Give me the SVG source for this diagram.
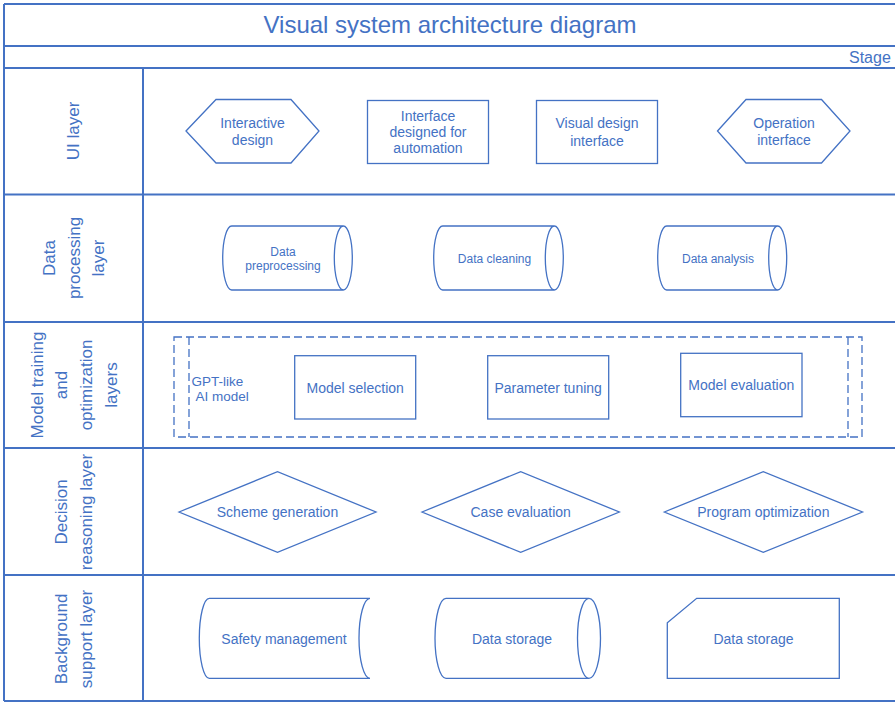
<svg xmlns="http://www.w3.org/2000/svg" width="895" height="702" viewBox="0 0 895 702">
  <style>
    .frame { fill: none; stroke: #4472C4; stroke-width: 2; }
    .shape { fill: #FFFFFF; stroke: #4472C4; stroke-width: 1.3; }
    .dash { fill: none; stroke: #4472C4; stroke-width: 1.3; stroke-dasharray: 8 4; }
    text { font-family: "Liberation Sans", Arial, sans-serif; fill: #4472C4; }
    .lbl { font-size: 14px; text-anchor: middle; dominant-baseline: central; }
    .sm { font-size: 12px; }
    .lane { font-size: 17px; text-anchor: middle; }
  </style>
  <rect width="895" height="702" fill="#FFFFFF"/>

  <!-- swimlane frame -->
  <g id="frame">
    <path class="frame" d="M4,4 H900 M4,4 V701 M4,46 H900 M4,68 H900 M4,194.5 H900 M4,322 H900 M4,448 H900 M4,575 H900 M4,701 H900 M143,68 V701"/>
    <text x="450" y="33" font-size="24" text-anchor="middle">Visual system architecture diagram</text>
    <text x="849" y="63" font-size="16">Stage</text>
  </g>

  <!-- lane titles -->
  <g id="lane-ui">
    <text class="lane" transform="translate(79,131) rotate(-90)">UI layer</text>
  </g>
  <g id="lane-data">
    <text class="lane" transform="translate(55,258) rotate(-90)"><tspan x="0">Data</tspan><tspan x="0" dy="24.6">processing</tspan><tspan x="0" dy="24.6">layer</tspan></text>
  </g>
  <g id="lane-model">
    <text class="lane" transform="translate(42.7,385) rotate(-90)"><tspan x="0">Model training</tspan><tspan x="0" dy="24.8">and</tspan><tspan x="0" dy="24.8">optimization</tspan><tspan x="0" dy="24.8">layers</tspan></text>
  </g>
  <g id="lane-decision">
    <text class="lane" transform="translate(67,512) rotate(-90)"><tspan x="0">Decision</tspan><tspan x="0" dy="24.8">reasoning layer</tspan></text>
  </g>
  <g id="lane-support">
    <text class="lane" transform="translate(67,639) rotate(-90)"><tspan x="0">Background</tspan><tspan x="0" dy="24.8">support layer</tspan></text>
  </g>

  <!-- UI layer -->
  <g id="interactive-design">
    <polygon class="shape" points="186,131 216,99.5 291,99.5 319,131 291,163 216,163"/>
    <text class="lbl" x="252.5" y="123">Interactive</text>
    <text class="lbl" x="252.5" y="140">design</text>
  </g>
  <g id="automation-interface">
    <rect class="shape" x="367.5" y="100.5" width="121" height="63"/>
    <text class="lbl" x="428" y="116">Interface</text>
    <text class="lbl" x="428" y="132">designed for</text>
    <text class="lbl" x="428" y="148">automation</text>
  </g>
  <g id="visual-design-interface">
    <rect class="shape" x="536.5" y="100.5" width="121" height="63"/>
    <text class="lbl" x="597" y="123" font-size="15">Visual design</text>
    <text class="lbl" x="597" y="141" font-size="15">interface</text>
  </g>
  <g id="operation-interface">
    <polygon class="shape" points="717.5,131 746,99.5 821.5,99.5 850,131 821.5,163 746,163"/>
    <text class="lbl" x="784" y="123">Operation</text>
    <text class="lbl" x="784" y="140">interface</text>
  </g>

  <!-- Data processing layer -->
  <g id="data-preprocessing">
    <path class="shape" d="M231.7,226 H343.3 A9,32 0 0 1 343.3,290 H231.7 A9,32 0 0 1 231.7,226 Z M343.3,226 A9,32 0 0 0 343.3,290"/>
    <text class="lbl sm" x="283" y="252">Data</text>
    <text class="lbl sm" x="283" y="266">preprocessing</text>
  </g>
  <g id="data-cleaning">
    <path class="shape" d="M442.7,226 H554.3 A9,32 0 0 1 554.3,290 H442.7 A9,32 0 0 1 442.7,226 Z M554.3,226 A9,32 0 0 0 554.3,290"/>
    <text class="lbl sm" x="494.5" y="258.5">Data cleaning</text>
  </g>
  <g id="data-analysis">
    <path class="shape" d="M666.7,226 H777.7 A9,32 0 0 1 777.7,290 H666.7 A9,32 0 0 1 666.7,226 Z M777.7,226 A9,32 0 0 0 777.7,290"/>
    <text class="lbl sm" x="718" y="258.5">Data analysis</text>
  </g>

  <!-- Model training and optimization layers -->
  <g id="gpt-like-model">
    <rect class="dash" x="174" y="337" width="688" height="100"/>
    <path class="dash" d="M189,337 V437 M848,337 V437"/>
    <text x="191.5" y="385.5" font-size="13.5">GPT-like</text>
    <text x="195.5" y="401" font-size="13.5">AI model</text>
  </g>
  <g id="model-selection">
    <rect class="shape" x="294.7" y="355.7" width="121" height="63.3"/>
    <text class="lbl" x="355.2" y="388">Model selection</text>
  </g>
  <g id="parameter-tuning">
    <rect class="shape" x="487.7" y="355.7" width="121" height="63.3"/>
    <text class="lbl" x="548.2" y="388">Parameter tuning</text>
  </g>
  <g id="model-evaluation">
    <rect class="shape" x="680.7" y="353.3" width="121.3" height="63.4"/>
    <text class="lbl" x="741.3" y="384.5">Model evaluation</text>
  </g>

  <!-- Decision reasoning layer -->
  <g id="scheme-generation">
    <polygon class="shape" points="179,512 277.5,471.7 376,512 277.5,552.3"/>
    <text class="lbl" x="277.5" y="512">Scheme generation</text>
  </g>
  <g id="case-evaluation">
    <polygon class="shape" points="422,512 520.7,471.7 619.3,512 520.7,552.3"/>
    <text class="lbl" x="520.7" y="512">Case evaluation</text>
  </g>
  <g id="program-optimization">
    <polygon class="shape" points="664.3,512 763.3,471.7 862.5,512 763.3,552.3"/>
    <text class="lbl" x="763.3" y="512">Program optimization</text>
  </g>

  <!-- Background support layer -->
  <g id="safety-management">
    <path class="shape" d="M209.3,598.3 H370 A11,40 0 0 0 370,678.3 H209.3 A10,40 0 0 1 209.3,598.3 Z"/>
    <text class="lbl" x="284" y="639">Safety management</text>
  </g>
  <g id="data-storage-cylinder">
    <path class="shape" d="M446,598.3 H589 A11.5,40 0 0 1 589,678.3 H446 A11,40 0 0 1 446,598.3 Z M589,598.3 A11.5,40 0 0 0 589,678.3"/>
    <text class="lbl" x="512" y="639">Data storage</text>
  </g>
  <g id="data-storage-card">
    <path class="shape" d="M696.7,598.3 H839.3 V678.3 H667.3 V622.7 Z"/>
    <text class="lbl" x="753.5" y="639">Data storage</text>
  </g>
</svg>
